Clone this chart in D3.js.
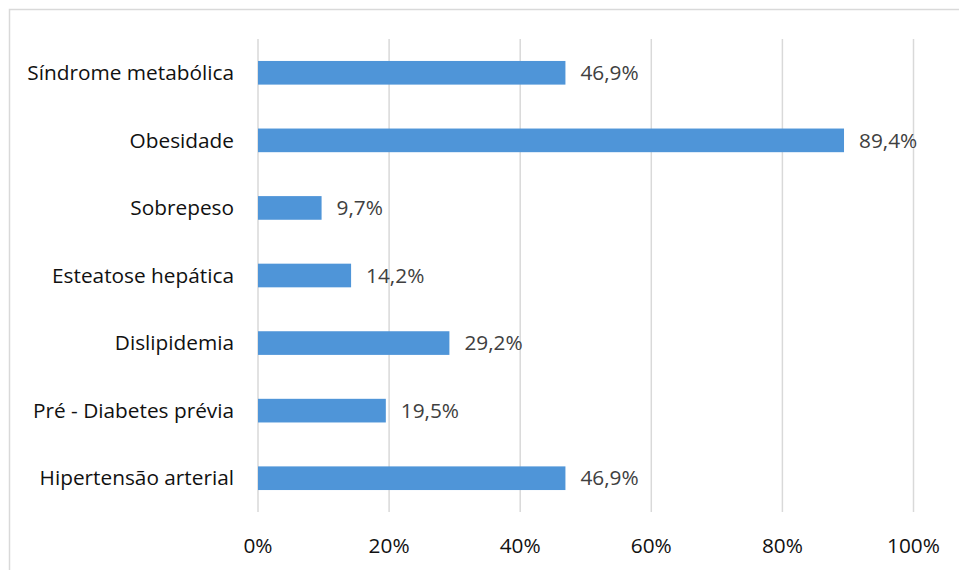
<!DOCTYPE html>
<html><head><meta charset="utf-8">
<script src="https://cdn.jsdelivr.net/npm/d3@7"></script>
<style>body{margin:0;background:#fff;} svg{display:block;}</style>
</head><body>
<svg id="c" width="959" height="570"></svg>
<script>
const categories = ["Síndrome metabólica","Obesidade","Sobrepeso","Esteatose hepática","Dislipidemia","Pré - Diabetes prévia","Hipertensão arterial"];
const values = [46.9, 89.4, 9.7, 14.2, 29.2, 19.5, 46.9];
const valueLabels = ["46,9%","89,4%","9,7%","14,2%","29,2%","19,5%","46,9%"];
const ticks = [0, 20, 40, 60, 80, 100];

const svg = d3.select("#c");
const font = "Open Sans, Lato, sans-serif";
const fs = 20.8;
svg.append("rect").attr("x",9.5).attr("y",9.5).attr("width",1000).attr("height",600)
  .attr("fill","#fff").attr("stroke","#d9d9d9").attr("stroke-width",1.5);

const x = d3.scaleLinear().domain([0,100]).range([258, 913.5]);
const y = d3.scaleBand().domain(categories).range([39, 512]).paddingInner(0.65).paddingOuter(0.325);

svg.append("g").selectAll("line").data(ticks).join("line")
  .attr("x1",d=>x(d)).attr("x2",d=>x(d)).attr("y1",39).attr("y2",512)
  .attr("stroke","#d9d9d9").attr("stroke-width",1.5);

svg.append("g").selectAll("rect").data(values).join("rect")
  .attr("x",x(0)).attr("y",(d,i)=>y(categories[i]))
  .attr("width",d=>x(d)-x(0)).attr("height",y.bandwidth())
  .attr("fill","#4f95d8");

svg.append("g").selectAll("text").data(valueLabels).join("text")
  .attr("x",(d,i)=>x(values[i])+15).attr("y",(d,i)=>y(categories[i])+y.bandwidth()/2)
  .attr("dy","0.35em").attr("font-family",font).attr("font-size",fs).attr("fill","#404040")
  .text(d=>d);

svg.append("g").selectAll("text").data(categories).join("text")
  .attr("x",234).attr("y",d=>y(d)+y.bandwidth()/2).attr("dy","0.35em")
  .attr("text-anchor","end").attr("font-family",font).attr("font-size",fs).attr("fill","#111")
  .text(d=>d);

svg.append("g").selectAll("text").data(ticks).join("text")
  .attr("x",d=>x(d)).attr("y",546).attr("dy","0.35em").attr("text-anchor","middle")
  .attr("font-family",font).attr("font-size",fs).attr("fill","#111")
  .text(d=>d+"%");
</script>
</body></html>
